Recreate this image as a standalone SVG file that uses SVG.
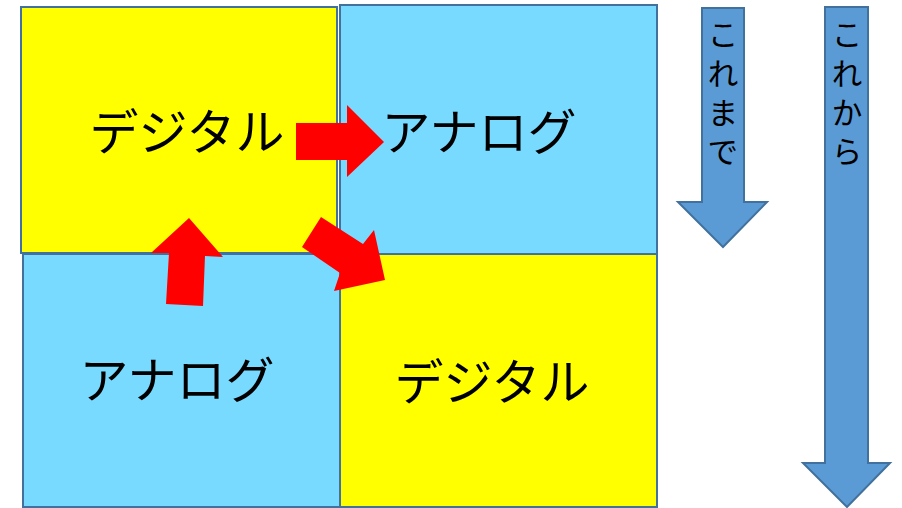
<svg xmlns="http://www.w3.org/2000/svg" width="902" height="508" viewBox="0 0 902 508">
<style>
.box{stroke:#41719C;stroke-width:2}
.y{fill:#FFFF00}
.b{fill:#78DAFF}
.lbl{font-family:"Noto Sans CJK JP","Noto Sans",sans-serif;font-size:49px;fill:#000;text-anchor:middle}
.vt{font-family:"Noto Sans CJK JP","Noto Sans",sans-serif;font-size:31px;fill:#000;writing-mode:vertical-rl;letter-spacing:8px}
.red{fill:#FF0000}
.barrow{fill:#5B9BD5;stroke:#41719C;stroke-width:2}
</style>
<g id="bottom-left">
<rect class="box b" x="23" y="254" width="317" height="253"/>
<text class="lbl" x="177" y="398">アナログ</text>
</g>
<g id="top-right">
<rect class="box b" x="340" y="5" width="317" height="249"/>
<text class="lbl" x="479" y="150">アナログ</text>
</g>
<g id="bottom-right">
<rect class="box y" x="340" y="254" width="317" height="253"/>
<text class="lbl" x="492" y="400">デジタル</text>
</g>
<g id="top-left">
<rect class="box y" x="21" y="7" width="316" height="246"/>
<text class="lbl" x="187" y="150">デジタル</text>
</g>
<g id="connectors">
<polygon class="red" points="296,123 347,123 347,105 384,142 347,177 347,160 296,160"/>
<polygon class="red" points="321,217 363,244 374,230 385,280 334,291 340,273 302,247"/>
<polygon class="red" points="189,218 223,257 205,256 203,306 166,304 169,253 151,253"/>
</g>
<g id="koremade">
<polygon class="barrow" points="702,8 744,8 744,202 767,202 723,247 678,202 702,202"/>
<text class="vt" x="723" y="19">これまで</text>
</g>
<g id="korekara">
<polygon class="barrow" points="825,7 868,7 868,463 890,463 847,507 803,463 825,463"/>
<text class="vt" x="847" y="19">これから</text>
</g>
</svg>
